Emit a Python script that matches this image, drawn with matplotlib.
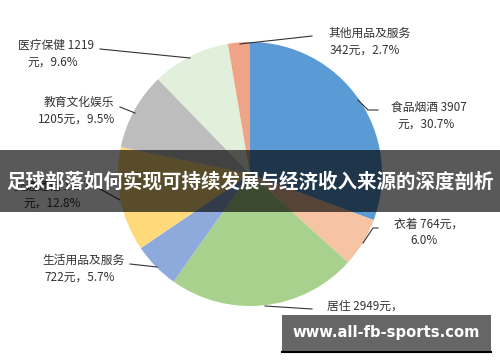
import matplotlib
matplotlib.use("Agg")
import matplotlib.pyplot as plt
from matplotlib.patches import Rectangle

plt.rcParams['font.family'] = ['Noto Sans CJK SC', 'DejaVu Sans']

# data, clockwise from 12 o'clock
categories = ['食品烟酒', '衣着', '居住', '生活用品及服务', '交通通信',
              '教育文化娱乐', '医疗保健', '其他用品及服务']
amounts = [3907, 764, 2949, 722, 1627, 1205, 1219, 342]
shares = ['30.7%', '6.0%', '23.2%', '5.7%', '12.8%', '9.5%', '9.6%', '2.7%']
colors = ['#5B9BD5', '#F6C4A2', '#A9D18E', '#8EA9DB', '#FFD97A',
          '#BDBDBD', '#E2EFDA', '#EFA487']

title = '足球部落如何实现可持续发展与经济收入来源的深度剖析'
watermark = 'www.all-fb-sports.com'

W, H = 500, 362
fig = plt.figure(figsize=(W / 100, H / 100), dpi=100)
ax = fig.add_axes([0, 0, 1, 1])


def fy(y):
    # pixel row (from top) -> axis y
    return H - y


ax.pie(amounts, colors=colors, startangle=90, counterclock=False,
       center=(250, fy(174)), radius=132, frame=True,
       wedgeprops=dict(linewidth=0))
ax.set_xlim(0, W)
ax.set_ylim(0, H)
ax.axis('off')

# label text: (line1, line2, x1, y1, x2, y2)
lab = [
    (f'{categories[0]} {amounts[0]}', f'元，{shares[0]}', 391, 107, 397, 124),
    (f'{categories[1]} {amounts[1]}元，', shares[1], 394, 224, 410, 241),
    (f'{categories[2]} {amounts[2]}元，', shares[2], 327, 306, 340, 321),
    (categories[3], f'{amounts[3]}元，{shares[3]}', 42, 260, 44, 277),
    (f'{categories[4]} {amounts[4]}', f'元，{shares[4]}', 14, 187, 23, 203),
    (categories[5], f'{amounts[5]}元，{shares[5]}', 44, 102, 38, 119),
    (f'{categories[6]} {amounts[6]}', f'元，{shares[6]}', 18, 45, 27, 62),
    (categories[7], f'{amounts[7]}元，{shares[7]}', 328, 33, 330, 50),
]
for l1, l2, x1, y1, x2, y2 in lab:
    ax.text(x1, fy(y1), l1, fontsize=8.5, color='#333333', va='center', ha='left')
    ax.text(x2, fy(y2), l2, fontsize=8.5, color='#333333', va='center', ha='left')

leaders = [
    [(358, 100), (368, 110), (378, 110)],
    [(363, 243), (373, 228), (378, 228)],
    [(265, 306), (312, 309)],
    [(130, 264), (157, 267)],
    [(100, 189), (120, 200)],
    [(120, 107), (135, 113)],
    [(100, 49), (190, 58)],
    [(240, 44), (312, 36)],
]
for pts in leaders:
    ax.plot([p[0] for p in pts], [fy(p[1]) for p in pts], color='#333333', lw=0.8)

# title band
ax.add_patch(Rectangle((0, fy(212)), W, 62, facecolor='black', alpha=0.65,
                       edgecolor='none', zorder=5))
ax.text(W / 2, fy(182), title, color='white', fontsize=14, fontweight='bold',
        ha='center', va='center', zorder=6)

# watermark box
ax.add_patch(Rectangle((282, fy(352)), 209, 37, facecolor='#666666',
                       edgecolor='none', zorder=5))
ax.plot([282, 491], [fy(352), fy(352)], color='black', lw=1.5, zorder=6)
ax.text(386, fy(333), watermark, color='white', fontsize=10.6, fontweight='bold',
        ha='center', va='center', zorder=6, family='DejaVu Sans')

fig.savefig('out.png', dpi=100)
